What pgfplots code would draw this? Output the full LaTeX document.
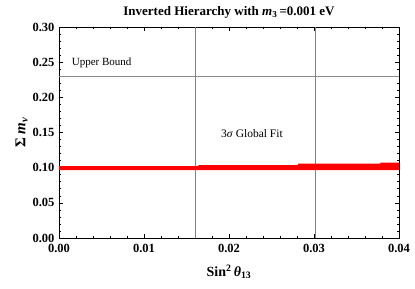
\documentclass[border=0pt]{standalone}
\usepackage{fontspec}
\setmainfont{Liberation Serif}
\usepackage{pgfplots}
\pgfplotsset{compat=1.18}

\begin{document}
\begin{tikzpicture}
\begin{axis}[
  scale only axis,
  width=340pt, height=211pt,
  xmin=0, xmax=0.04,
  ymin=0, ymax=0.30,
  xtick={0,0.01,0.02,0.03,0.04},
  ytick={0,0.05,0.10,0.15,0.20,0.25,0.30},
  minor x tick num=4,
  minor y tick num=4,
  major tick length=4pt,
  minor tick length=2pt,
  tick style={black, line width=0.6pt},
  axis line style={black, line width=0.8pt},
  /pgf/number format/.cd, fixed, fixed zerofill, precision=2, assume math mode=true,
  /pgfplots/.cd,
  scaled ticks=false,
  tick label style={font=\bfseries\fontsize{12.5}{13}\selectfont},
  xticklabel style={yshift=-3pt},
  yticklabel style={xshift=-1pt},
  title={\textbf{Inverted Hierarchy with \textit{m}\textsubscript{3}\,=0.001 eV}},
  title style={font=\fontsize{13}{14}\selectfont, yshift=-1pt},
  xlabel={\textbf{Sin\textsuperscript{2}\,\textit{θ}\textsubscript{13}}},
  ylabel={\textbf{Σ \textit{m}\textsubscript{\textit{ν}}}},
  xlabel style={font=\fontsize{14}{15}\selectfont, yshift=-5pt},
  ylabel style={font=\fontsize{15}{16}\selectfont, yshift=-2pt},
  clip=true,
]
\coordinate (bl) at (rel axis cs:0,0);
\coordinate (tr) at (rel axis cs:1,1);

% reference lines
\addplot[black!50, line width=0.6pt] coordinates {(0.016,0) (0.016,0.30)};
\addplot[black!50, line width=0.6pt] coordinates {(0.0302,0) (0.0302,0.30)};
\addplot[black!45, line width=0.8pt] coordinates {(0,0.23) (0.04,0.23)};

% red band of allowed sum of masses
\addplot[fill=red, draw=none] coordinates {
  (-0.001,0.0965) (0.041,0.0965)
  (0.041,0.1072) (0.0378,0.1072)
  (0.0378,0.1058) (0.0281,0.1058)
  (0.0281,0.1037) (0.0164,0.1037)
  (0.0164,0.1022) (-0.001,0.1022)
} -- cycle;

\node[anchor=west, font=\fontsize{11}{12}\selectfont] at (axis cs:0.0011,0.249) {Upper Bound};
\node[font=\fontsize{11.5}{12}\selectfont] at (axis cs:0.0227,0.149) {3\textit{σ} Global Fit};
\end{axis}
\pgfresetboundingbox
\path[use as bounding box] ([shift={(-59pt,-51pt)}]bl) rectangle ([shift={(16pt,27pt)}]tr);
\end{tikzpicture}
\end{document}
